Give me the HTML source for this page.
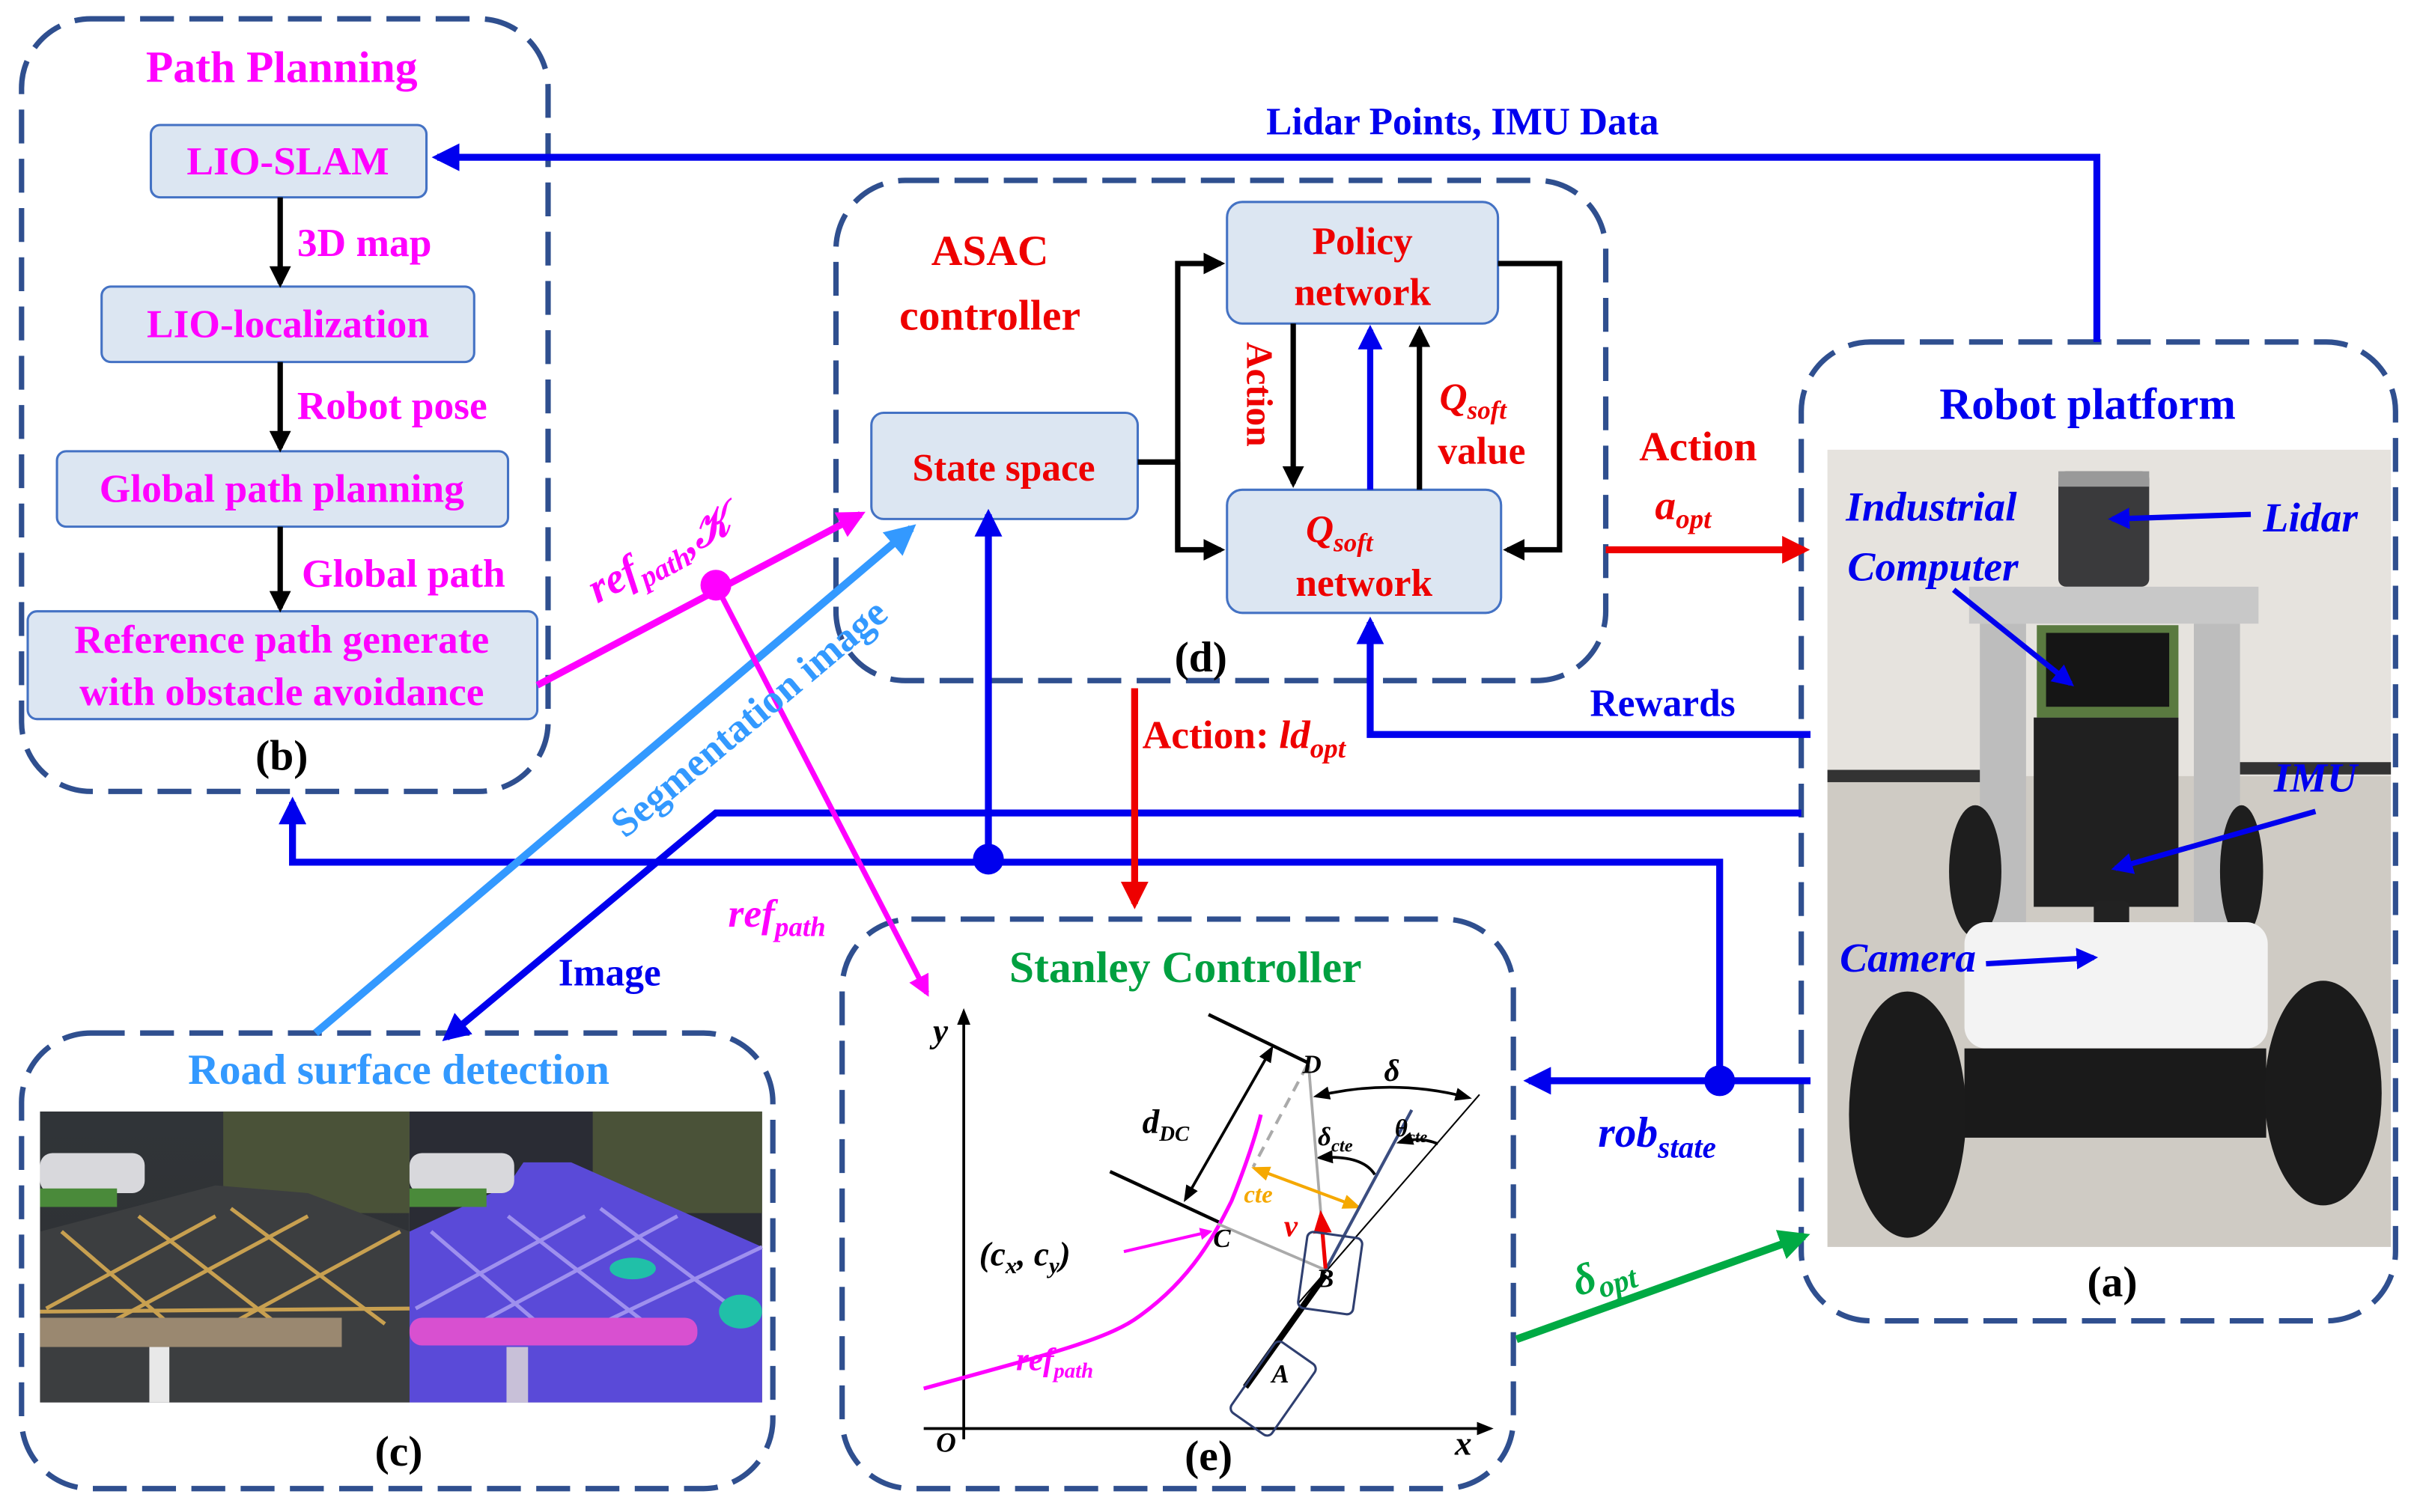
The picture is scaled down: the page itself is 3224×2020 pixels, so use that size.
<!DOCTYPE html>
<html><head><meta charset="utf-8">
<style>
html,body{margin:0;padding:0;background:#fff;}
svg{display:block;}
text{font-family:"Liberation Serif",serif;font-weight:bold;}
</style></head>
<body>
<svg width="3224" height="2020" viewBox="0 0 1568 982" xmlns="http://www.w3.org/2000/svg">
<defs>
<marker id="ab" viewBox="0 0 10 10" refX="8" refY="5" markerWidth="4" markerHeight="4" orient="auto"><path d="M0,0L10,5L0,10z" fill="#0000ee"/></marker>
<marker id="ak" viewBox="0 0 10 10" refX="8" refY="5" markerWidth="4" markerHeight="4" orient="auto"><path d="M0,0L10,5L0,10z" fill="#000"/></marker>
<marker id="ar" viewBox="0 0 10 10" refX="8" refY="5" markerWidth="4" markerHeight="4" orient="auto"><path d="M0,0L10,5L0,10z" fill="#ee0000"/></marker>
<marker id="am" viewBox="0 0 10 10" refX="8" refY="5" markerWidth="4" markerHeight="4" orient="auto"><path d="M0,0L10,5L0,10z" fill="#ff00ff"/></marker>
<marker id="al" viewBox="0 0 10 10" refX="8" refY="5" markerWidth="4" markerHeight="4" orient="auto"><path d="M0,0L10,5L0,10z" fill="#3399ff"/></marker>
<marker id="ag" viewBox="0 0 10 10" refX="8" refY="5" markerWidth="4" markerHeight="4" orient="auto"><path d="M0,0L10,5L0,10z" fill="#00aa44"/></marker>
<marker id="as" viewBox="0 0 10 10" refX="8" refY="5" markerWidth="6" markerHeight="6" orient="auto-start-reverse"><path d="M0,1L10,5L0,9z" fill="#000"/></marker>
<marker id="ay" viewBox="0 0 10 10" refX="8" refY="5" markerWidth="6" markerHeight="6" orient="auto-start-reverse"><path d="M0,1L10,5L0,9z" fill="#f5a800"/></marker>
<marker id="vr" viewBox="0 0 10 10" refX="8" refY="5" markerWidth="6" markerHeight="6" orient="auto"><path d="M0,1L10,5L0,9z" fill="#ee0000"/></marker>
<linearGradient id="rd" x1="0" y1="0" x2="0" y2="1"><stop offset="0" stop-color="#303438"/><stop offset="1" stop-color="#2e3032"/></linearGradient>
</defs>

<g fill="none" stroke="#2f4f8f" stroke-width="3.5" stroke-dasharray="22,10">
<rect x="14" y="12" width="342" height="502" rx="45"/>
<rect x="543" y="117" width="500" height="325" rx="45"/>
<rect x="1170" y="222" width="386" height="636" rx="45"/>
<rect x="14" y="671" width="488" height="296" rx="45"/>
<rect x="547" y="597" width="436" height="370" rx="45"/>
</g>

<g fill="#dce6f2" stroke="#4472c4" stroke-width="1.5">
<rect x="98" y="81" width="179" height="47" rx="6"/>
<rect x="66" y="186" width="242" height="49" rx="6"/>
<rect x="37" y="293" width="293" height="49" rx="6"/>
<rect x="18" y="397" width="331" height="70" rx="6"/>
<rect x="566" y="268" width="173" height="69" rx="8"/>
<rect x="797" y="131" width="176" height="79" rx="10"/>
<rect x="797" y="318" width="178" height="80" rx="10"/>
</g>
<g fill="#ff00ff" font-size="26">
<text x="183" y="53" text-anchor="middle" font-size="29">Path Planning</text>
<text x="187" y="113" text-anchor="middle">LIO-SLAM</text>
<text x="187" y="219" text-anchor="middle">LIO-localization</text>
<text x="183" y="326" text-anchor="middle">Global path planning</text>
<text x="183" y="424" text-anchor="middle">Reference path generate</text>
<text x="183" y="458" text-anchor="middle">with obstacle avoidance</text>
<text x="193" y="166">3D map</text>
<text x="193" y="272">Robot pose</text>
<text x="196" y="381">Global path</text>
</g>
<text x="183" y="500" text-anchor="middle" font-size="28" fill="#000">(b)</text>
<g stroke="#000" stroke-width="3.5" marker-end="url(#ak)">
<line x1="182" y1="128" x2="182" y2="184"/>
<line x1="182" y1="235" x2="182" y2="291"/>
<line x1="182" y1="342" x2="182" y2="395"/>
</g>

<g fill="#ee0000" font-size="28">
<text x="643" y="172" text-anchor="middle">ASAC</text>
<text x="643" y="214" text-anchor="middle">controller</text>
<text x="652" y="312" text-anchor="middle" font-size="25">State space</text>
<text x="885" y="165" text-anchor="middle" font-size="25">Policy</text>
<text x="885" y="198" text-anchor="middle" font-size="25">network</text>
<text x="870" y="352" text-anchor="middle" font-size="25" font-style="italic">Q<tspan font-size="17" dy="6">soft</tspan></text>
<text x="886" y="387" text-anchor="middle" font-size="25">network</text>
<text x="935" y="266" font-size="25" font-style="italic">Q<tspan font-size="17" dy="6">soft</tspan></text>
<text x="934" y="301" font-size="25">value</text>
<text x="1103" y="299" text-anchor="middle" font-size="27">Action</text>
<text x="1075" y="337" font-size="27" font-style="italic">a<tspan font-size="18" dy="6">opt</tspan></text>
<text x="742" y="486" font-size="26">Action: <tspan font-style="italic">ld</tspan><tspan font-size="18" dy="6" font-style="italic">opt</tspan></text>
<text transform="translate(810,222) rotate(90)" font-size="24">Action</text>
</g>
<text x="780" y="436" text-anchor="middle" font-size="28" fill="#000">(d)</text>
<g stroke="#000" stroke-width="3.5" fill="none">
<polyline points="739,300 765,300"/>
<polyline points="765,357 765,171 793,171" marker-end="url(#ak)"/>
<polyline points="765,300 765,357 793,357" marker-end="url(#ak)"/>
<polyline points="973,171 1013,171 1013,357 979,357" marker-end="url(#ak)"/>
<line x1="840" y1="210" x2="840" y2="314" marker-end="url(#ak)"/>
<line x1="922" y1="318" x2="922" y2="214" marker-end="url(#ak)"/>
</g>
<line x1="890" y1="318" x2="890" y2="214" stroke="#0000ee" stroke-width="4" marker-end="url(#ab)"/>

<!-- Robot platform -->
<text x="1356" y="272" text-anchor="middle" font-size="29" fill="#0000ee">Robot platform</text>
<rect x="1187" y="292" width="366" height="212" fill="#e6e3de"/>
<rect x="1187" y="504" width="366" height="306" fill="#cfcbc4"/>
<rect x="1187" y="500" width="120" height="8" fill="#333"/>
<rect x="1450" y="495" width="103" height="8" fill="#333"/>
<rect x="1337" y="306" width="59" height="75" rx="5" fill="#3a3a3c"/>
<rect x="1337" y="306" width="59" height="10" fill="#999"/>
<rect x="1279" y="381" width="188" height="24" fill="#c8c8c8"/>
<rect x="1286" y="405" width="30" height="195" fill="#bdbdbd"/>
<rect x="1425" y="405" width="30" height="195" fill="#bdbdbd"/>
<rect x="1321" y="466" width="94" height="123" fill="#202020"/>
<rect x="1323" y="406" width="92" height="60" fill="#5a7a40"/>
<rect x="1329" y="411" width="80" height="48" fill="#151515"/>
<ellipse cx="1283" cy="566" rx="17" ry="43" fill="#1e1e1e"/>
<ellipse cx="1456" cy="566" rx="14" ry="43" fill="#1e1e1e"/>
<rect x="1360" y="585" width="23" height="41" rx="4" fill="#222"/>
<rect x="1276" y="599" width="197" height="82" rx="14" fill="#f3f3f3"/>
<rect x="1276" y="681" width="196" height="58" fill="#1a1a1a"/>
<ellipse cx="1239" cy="724" rx="38" ry="80" fill="#1b1b1b"/>
<ellipse cx="1509" cy="710" rx="38" ry="73" fill="#1b1b1b"/>
<g fill="#0000ee" font-size="27" font-style="italic">
<text x="1199" y="338">Industrial</text>
<text x="1200" y="377">Computer</text>
<text x="1470" y="345">Lidar</text>
<text x="1477" y="514">IMU</text>
<text x="1195" y="631">Camera</text>
</g>
<g stroke="#0000ee" stroke-width="3.5" marker-end="url(#ab)">
<line x1="1462" y1="334" x2="1372" y2="337"/>
<line x1="1269" y1="383" x2="1345" y2="444"/>
<line x1="1504" y1="527" x2="1374" y2="564"/>
<line x1="1290" y1="626" x2="1360" y2="622"/>
</g>
<text x="1372" y="842" text-anchor="middle" font-size="28" fill="#000">(a)</text>

<!-- Road surface -->
<text x="259" y="704" text-anchor="middle" font-size="28" fill="#3399ff">Road surface detection</text>
<rect x="26" y="722" width="240" height="189" fill="url(#rd)"/>
<rect x="266" y="722" width="229" height="189" fill="#2a2c34"/>
<rect x="145" y="722" width="121" height="66" fill="#4a5238"/>
<rect x="385" y="722" width="110" height="66" fill="#4a5238"/>
<polygon points="26,800 26,911 266,911 266,800 200,775 140,770" fill="#3c3e40"/>
<polygon points="266,911 266,800 330,770 340,755 371,755 495,810 495,911" fill="#5a4ad8"/>
<rect x="26" y="749" width="68" height="26" rx="8" fill="#d8d8dc"/>
<rect x="266" y="749" width="68" height="26" rx="8" fill="#d8d8dc"/>
<rect x="26" y="772" width="50" height="12" fill="#4a8a3a"/>
<rect x="266" y="772" width="50" height="12" fill="#4a8a3a"/>
<g stroke="#c8a050" stroke-width="2.5">
<line x1="40" y1="800" x2="110" y2="860"/><line x1="90" y1="790" x2="180" y2="860"/><line x1="150" y1="785" x2="250" y2="860"/>
<line x1="140" y1="790" x2="30" y2="850"/><line x1="200" y1="790" x2="70" y2="860"/><line x1="260" y1="800" x2="150" y2="860"/>
<line x1="26" y1="852" x2="266" y2="850"/>
</g>
<g stroke="#9e90ee" stroke-width="2.5">
<line x1="280" y1="800" x2="350" y2="860"/><line x1="330" y1="790" x2="420" y2="860"/><line x1="390" y1="785" x2="490" y2="860"/>
<line x1="380" y1="790" x2="270" y2="850"/><line x1="440" y1="790" x2="310" y2="860"/><line x1="495" y1="810" x2="390" y2="860"/>
</g>
<rect x="26" y="856" width="196" height="19" fill="#9a8870"/>
<rect x="266" y="856" width="187" height="18" rx="8" fill="#d850d0"/>
<rect x="97" y="875" width="13" height="36" fill="#e8e8e8"/>
<rect x="329" y="875" width="14" height="36" fill="#c8c0d8"/>
<ellipse cx="411" cy="824" rx="15" ry="7" fill="#20c0a8"/>
<ellipse cx="481" cy="852" rx="14" ry="11" fill="#20c0a8"/>
<text x="259" y="952" text-anchor="middle" font-size="28" fill="#000">(c)</text>

<!-- Stanley -->
<text x="770" y="638" text-anchor="middle" font-size="29" fill="#00a040">Stanley Controller</text>
<g stroke="#000" stroke-width="1.8" fill="none">
<line x1="626" y1="935" x2="626" y2="657" marker-end="url(#as)"/>
<line x1="600" y1="928" x2="968" y2="928" marker-end="url(#as)"/>
<line x1="785" y1="659" x2="849" y2="690" stroke-width="2.2"/>
<line x1="721" y1="761" x2="792" y2="794" stroke-width="2.2"/>
<line x1="826" y1="681" x2="770" y2="779" marker-start="url(#as)" marker-end="url(#as)"/>
<line x1="961" y1="711" x2="843" y2="847" stroke-width="1"/>
<path d="M855,712 Q905,700 954,713" marker-start="url(#as)" marker-end="url(#as)"/>
<path d="M857,752 Q885,750 893,763" marker-start="url(#as)"/>
<path d="M909,742 Q922,738 934,743" marker-start="url(#as)"/>
</g>
<path d="M600,902 C680,880 720,870 740,855 C775,830 790,800 800,780 C808,760 815,740 819,724" stroke="#ff00ff" stroke-width="2.5" fill="none"/>
<line x1="849" y1="692" x2="814" y2="758" stroke="#aaa" stroke-width="2" stroke-dasharray="7,5"/>
<polyline points="791,795 861,825 850,692" stroke="#aaa" stroke-width="1.8" fill="none"/>
<line x1="815" y1="759" x2="882" y2="784" stroke="#f5a800" stroke-width="2" marker-start="url(#ay)" marker-end="url(#ay)"/>
<line x1="917" y1="721" x2="861" y2="825" stroke="#3b4d80" stroke-width="2"/>
<line x1="809" y1="901" x2="861" y2="828" stroke="#000" stroke-width="4"/>
<line x1="861" y1="824" x2="858" y2="789" stroke="#ee0000" stroke-width="2.5" marker-end="url(#vr)"/>
<rect x="846" y="802" width="36" height="50" rx="4" transform="rotate(8,864,827)" fill="none" stroke="#2f3f70" stroke-width="1.5"/>
<rect x="811" y="874" width="32" height="56" rx="4" transform="rotate(35,827,902)" fill="none" stroke="#2f3f70" stroke-width="1.5"/>
<line x1="730" y1="813" x2="786" y2="800" stroke="#ff00ff" stroke-width="2" marker-end="url(#am)"/>
<g font-style="italic" fill="#000">
<text x="606" y="677" font-size="22">y</text>
<text x="945" y="945" font-size="22">x</text>
<text x="608" y="943" font-size="18">O</text>
<text x="742" y="736" font-size="22">d<tspan font-size="14" dy="5">DC</tspan></text>
<text x="846" y="697" font-size="17">D</text>
<text x="899" y="702" font-size="20">δ</text>
<text x="856" y="744" font-size="17">δ<tspan font-size="12" dy="4">cte</tspan></text>
<text x="906" y="738" font-size="16">θ<tspan font-size="11" dy="4">cte</tspan></text>
<text x="788" y="810" font-size="17">C</text>
<text x="855" y="836" font-size="17">B</text>
<text x="826" y="898" font-size="17">A</text>
<text x="636" y="822" font-size="22">(c<tspan font-size="15" dy="5">x</tspan><tspan dy="-5">, c</tspan><tspan font-size="15" dy="5">y</tspan><tspan dy="-5">)</tspan></text>
<text x="808" y="781" fill="#f5a800" font-size="16">cte</text>
<text x="834" y="803" fill="#ee0000" font-size="20">v</text>
<text x="660" y="890" fill="#ff00ff" font-size="21">ref<tspan font-size="14" dy="5">path</tspan></text>
</g>
<text x="785" y="955" text-anchor="middle" font-size="28" fill="#000">(e)</text>

<!-- connectors -->
<g fill="none" stroke="#0000ee" stroke-width="4.5">
<polyline points="1362,222 1362,102 284,102" marker-end="url(#ab)"/>
<polyline points="1176,477 890,477 890,404" marker-end="url(#ab)"/>
<polyline points="1170,528 465,528 290,674" marker-end="url(#ab)"/>
<polyline points="1117,700 1117,560 190,560 190,521" marker-end="url(#ab)"/>
<line x1="642" y1="560" x2="642" y2="334" marker-end="url(#ab)"/>
<line x1="1176" y1="702" x2="993" y2="702" marker-end="url(#ab)"/>
</g>
<circle cx="642" cy="558" r="10" fill="#0000ee"/>
<circle cx="1117" cy="702" r="10" fill="#0000ee"/>
<line x1="205" y1="671" x2="592" y2="343" stroke="#3399ff" stroke-width="5" marker-end="url(#al)"/>
<line x1="349" y1="445" x2="559" y2="334" stroke="#ff00ff" stroke-width="4.5" marker-end="url(#am)"/>
<line x1="465" y1="380" x2="602" y2="645" stroke="#ff00ff" stroke-width="3.5" marker-end="url(#am)"/>
<circle cx="465" cy="380" r="10" fill="#ff00ff"/>
<line x1="1043" y1="357" x2="1172" y2="357" stroke="#ee0000" stroke-width="4.5" marker-end="url(#ar)"/>
<line x1="737" y1="447" x2="737" y2="587" stroke="#ee0000" stroke-width="4.5" marker-end="url(#ar)"/>
<line x1="985" y1="870" x2="1172" y2="803" stroke="#00aa44" stroke-width="5" marker-end="url(#ag)"/>

<g font-size="25" fill="#0000ee">
<text x="950" y="87" text-anchor="middle">Lidar Points, IMU Data</text>
<text x="1080" y="465" text-anchor="middle">Rewards</text>
<text x="396" y="640" text-anchor="middle">Image</text>
<text x="1038" y="745" font-size="28" font-style="italic">rob<tspan font-size="20" dy="7">state</tspan></text>
</g>
<text transform="translate(406,545) rotate(-40)" font-size="26" fill="#3399ff">Segmentation image</text>
<text transform="translate(388,392) rotate(-28)" font-size="28" fill="#ff00ff" font-style="italic">ref<tspan font-size="19" dy="6">path</tspan><tspan dy="-6">,𝒦</tspan></text>
<text x="473" y="602" font-size="26" fill="#ff00ff" font-style="italic">ref<tspan font-size="18" dy="6">path</tspan></text>
<text transform="translate(1025,842) rotate(-18)" font-size="28" fill="#00aa44" font-style="italic">δ<tspan font-size="20" dy="6">opt</tspan></text>
</svg>
</body></html>
